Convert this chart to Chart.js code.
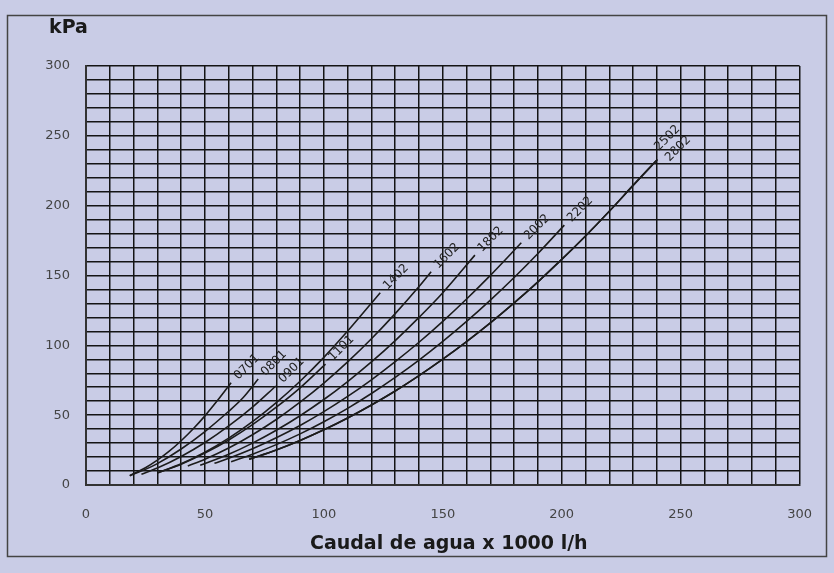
<!DOCTYPE html>
<html>
<head>
<meta charset="utf-8">
<script src="https://cdn.jsdelivr.net/npm/chart.js@4.4.1/dist/chart.umd.min.js"></script>
<style>
  html, body { margin: 0; padding: 0; background: #c9cce6; }
</style>
</head>
<body>
<canvas id="grafico" width="834" height="573"></canvas>
<script>
// curvas de perdida de carga: [caudal x1000 l/h, kPa]
const modelos = ["0701", "0801", "0901", "1101", "1402", "1602", "1802", "2002", "2202", "2502", "2802"];

const c0701 = [[18.4, 6.7], [25, 12.4], [30, 17.8], [35, 24.2], [40, 31.7], [45, 40.1], [50, 49.5], [55, 59.9], [61, 73.2]];
const c0801 = [[18.4, 6.7], [25, 11.2], [30, 15.3], [40, 25.8], [50, 38.3], [60, 52.8], [66, 62.5], [72.4, 75.9]];
const c0901 = [[23.3, 7.7], [30, 12.1], [40, 20.4], [50, 30.4], [60, 42.3], [70, 55.8], [79.8, 70.9]];
const c1101 = [[30.3, 8.8], [40, 14.9], [50, 22.8], [60, 32.2], [70, 43.2], [80, 55.7], [90, 69.6], [100.7, 86.6]];
const c1402 = [[30.3, 8.8], [40, 15.2], [50, 23.5], [60, 33.6], [70, 45.4], [80, 59.0], [90, 74.3], [100, 91.4], [110, 110.2], [123.7, 137.7]];
const c1602 = [[42.8, 13.6], [50, 18.5], [60, 26.5], [70, 36.0], [80, 46.9], [90, 59.3], [100, 73.0], [110, 88.1], [120, 104.7], [130, 122.7], [140, 142.1], [145.1, 152.7]];
const c1802 = [[48, 14.1], [60, 22.0], [70, 30.0], [80, 39.2], [90, 49.6], [100, 61.2], [110, 74.1], [120, 88.1], [130, 103.4], [140, 120.0], [150, 137.7], [163.5, 164.6]];
const c2002 = [[54, 15.5], [60, 19.1], [70, 25.9], [80, 33.8], [90, 42.6], [100, 52.5], [110, 63.4], [120, 75.3], [130, 88.3], [140, 102.2], [150, 117.2], [160, 133.2], [170, 150.1], [183, 173.4]];
const c2202 = [[61, 16.7], [70, 22.1], [80, 28.9], [90, 36.6], [100, 45.3], [110, 54.9], [120, 65.5], [130, 77.0], [140, 89.4], [150, 102.8], [160, 117.1], [170, 132.4], [180, 148.6], [190, 165.8], [201.1, 186.1]];
const c2502 = [[68.6, 18.4], [80, 25.1], [90, 31.9], [100, 39.5], [110, 48.0], [120, 57.3], [130, 67.3], [140, 78.3], [150, 90.1], [160, 102.7], [170, 116.1], [180, 130.4], [190, 145.5], [200, 161.5], [210, 178.3], [220, 196.0], [230, 214.5], [240.2, 233.1]];
const c2802 = [[68.6, 18.4], [80, 25.1], [90, 31.9], [100, 39.5], [110, 48.0], [120, 57.3], [130, 67.3], [140, 78.3], [150, 90.1], [160, 102.7], [170, 116.1], [180, 130.4], [190, 145.5], [200, 161.5], [210, 178.3], [220, 196.0], [230, 214.5], [240.2, 233.1]];

const curvas = [c0701, c0801, c0901, c1101, c1402, c1602, c1802, c2002, c2202, c2502, c2802];

const ejeMin = 0, ejeMax = 300, pasoGrid = 10, pasoEtiqueta = 50;
const tituloX = "Caudal de agua x 1000 l/h";
const tituloY = "kPa";

const fondo = "#c9cce6";
const negro = "#141414";

// separacion de las etiquetas que comparten final de curva
const desplazamiento = { "2502": -8, "2802": 7 };

const datasets = modelos.map((m, i) => ({
  label: m,
  data: curvas[i].map(p => ({ x: p[0], y: p[1] })),
  showLine: true,
  pointRadius: 0,
  borderColor: "#1c1c1c",
  borderWidth: 1.6,
  cubicInterpolationMode: "monotone"
}));

// fondo y marco
const marco = {
  id: "marco",
  beforeDraw(chart) {
    const ctx = chart.ctx;
    ctx.save();
    ctx.fillStyle = fondo;
    ctx.fillRect(0, 0, chart.width, chart.height);
    ctx.strokeStyle = "#444";
    ctx.lineWidth = 1.5;
    ctx.strokeRect(7.5, 15.5, 819, 541);
    ctx.restore();
  }
};

// etiquetas de modelo al final de cada curva
const etiquetas = {
  id: "etiquetas",
  afterDatasetsDraw(chart) {
    const { ctx, scales: { x, y } } = chart;
    ctx.save();
    ctx.font = '12px "DejaVu Sans"';
    ctx.fillStyle = "#222";
    ctx.textBaseline = "middle";
    chart.data.datasets.forEach(ds => {
      const ult = ds.data[ds.data.length - 1];
      const px = x.getPixelForValue(ult.x);
      const py = y.getPixelForValue(ult.y);
      ctx.save();
      ctx.translate(px, py);
      ctx.rotate(-Math.PI / 4);
      ctx.fillText(ds.label, 7, desplazamiento[ds.label] || 0);
      ctx.restore();
    });
    ctx.restore();
  }
};

// titulos de ejes
const titulos = {
  id: "titulos",
  afterDraw(chart) {
    const { ctx, chartArea } = chart;
    ctx.save();
    ctx.fillStyle = "#1a1a1a";
    ctx.font = 'bold 19px "DejaVu Sans"';
    ctx.textBaseline = "alphabetic";
    ctx.textAlign = "left";
    ctx.fillText(tituloY, 49, 33);
    ctx.font = 'bold 19px "DejaVu Sans"';
    ctx.textAlign = "center";
    ctx.fillText(tituloX, (chartArea.left + chartArea.right) / 2 + 6, 549);
    ctx.restore();
  }
};

const fuenteTicks = { family: '"DejaVu Sans"', size: 13 };

new Chart(document.getElementById("grafico"), {
  type: "scatter",
  data: { datasets },
  options: {
    responsive: false,
    animation: false,
    layout: { padding: { top: 66, right: 31, left: 0, bottom: 0 } },
    plugins: { legend: { display: false }, tooltip: { enabled: false } },
    scales: {
      x: {
        type: "linear",
        min: ejeMin,
        max: ejeMax,
        ticks: {
          stepSize: pasoGrid,
          autoSkip: false,
          maxRotation: 0,
          padding: 22,
          color: "#444",
          font: fuenteTicks,
          callback: v => (v % pasoEtiqueta === 0 ? v : "")
        },
        grid: { color: negro, lineWidth: 1.5, drawTicks: false },
        border: { color: "#333", width: 2 },
        afterFit: s => { s.height = 88; }
      },
      y: {
        type: "linear",
        min: ejeMin,
        max: ejeMax,
        ticks: {
          stepSize: pasoGrid,
          autoSkip: false,
          padding: 16,
          color: "#444",
          font: fuenteTicks,
          callback: v => (v % pasoEtiqueta === 0 ? v : "")
        },
        grid: { color: negro, lineWidth: 1.5, drawTicks: false },
        border: { color: "#333", width: 2 },
        afterFit: s => { s.width = 86; }
      }
    }
  },
  plugins: [marco, etiquetas, titulos]
});
</script>
</body>
</html>
